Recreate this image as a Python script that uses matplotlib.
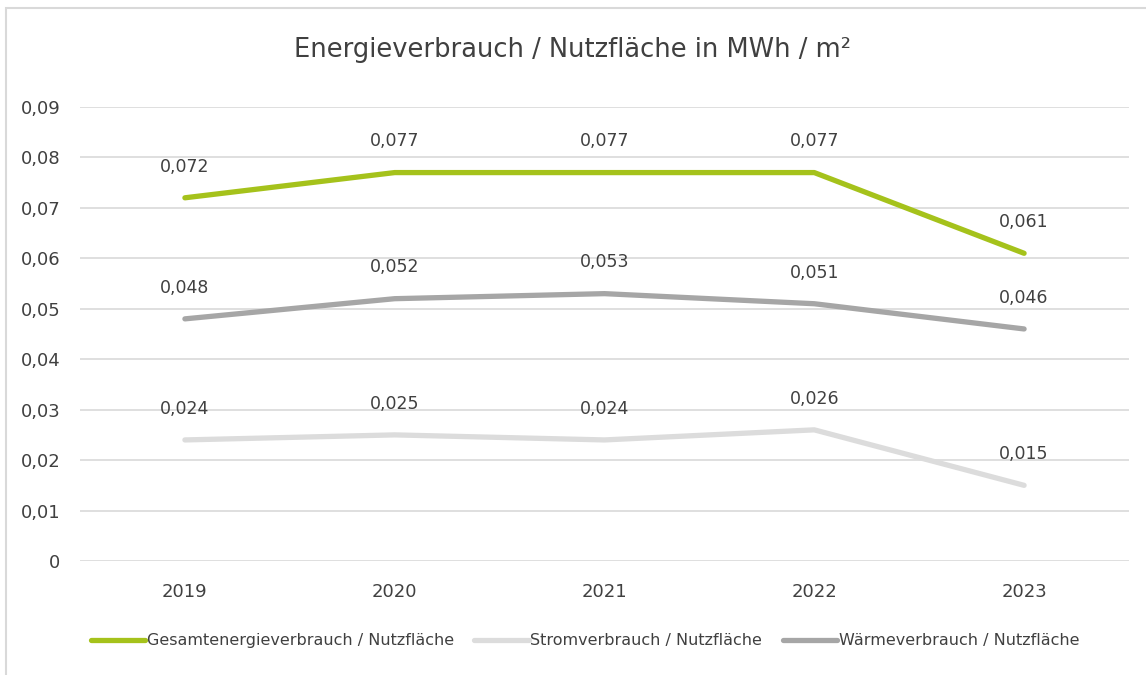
import matplotlib.pyplot as plt
from matplotlib.patches import Rectangle

plt.rcParams['font.family'] = ['Liberation Sans Narrow', 'DejaVu Sans']

years = ['2019', '2020', '2021', '2022', '2023']
gesamt = [0.072, 0.077, 0.077, 0.077, 0.061]
strom = [0.024, 0.025, 0.024, 0.026, 0.015]
waerme = [0.048, 0.052, 0.053, 0.051, 0.046]
yticks = [0, 0.01, 0.02, 0.03, 0.04, 0.05, 0.06, 0.07, 0.08, 0.09]

series = [
    ("Gesamtenergieverbrauch / Nutzfläche", gesamt, "#A5C21B"),
    ("Stromverbrauch / Nutzfläche", strom, "#DCDCDC"),
    ("Wärmeverbrauch / Nutzfläche", waerme, "#A6A6A6"),
]

txt = "#404040"

fig = plt.figure(figsize=(11.46, 6.75), dpi=100)
fig.patches.append(Rectangle((6 / 1146, -0.1), 1.2, 1 - 8 / 675 + 0.1,
                             transform=fig.transFigure, fill=False,
                             edgecolor="#D9D9D9", linewidth=1.5))
ax = fig.add_axes([80 / 1146, 1 - 561 / 675, 1049 / 1146, 454 / 675])

x = list(range(len(years)))
for name, vals, col in series:
    ax.plot(x, vals, color=col, linewidth=3.8, label=name, solid_capstyle='round')
    for xi, v in zip(x, vals):
        ax.annotate(f"{v:.3f}".replace('.', ','), (xi, v), xytext=(0, 16),
                    textcoords='offset points', ha='center', va='bottom',
                    fontsize=12.5, color=txt)

ax.set_xlim(-0.5, len(years) - 0.5)
ax.set_ylim(0, 0.09)
ax.set_xticks(x)
ax.set_xticklabels(years)
ax.set_yticks(yticks)
ax.set_yticklabels(["0" if t == 0 else f"{t:.2f}".replace('.', ',') for t in yticks])
ax.tick_params(length=0, labelsize=13, labelcolor=txt)
ax.tick_params(axis='y', pad=14)
ax.tick_params(axis='x', pad=16)
ax.grid(axis='y', color="#D9D9D9", linewidth=1.2)
ax.set_axisbelow(True)
for s in ax.spines.values():
    s.set_visible(False)

fig.text(0.5, 1 - 50 / 675, "Energieverbrauch / Nutzfläche in MWh / m²",
         ha='center', va='center', fontsize=18.5, color=txt)

fig.legend(loc='center', bbox_to_anchor=(585 / 1146, 1 - 641 / 675), ncol=3,
           frameon=False, fontsize=11.5, handlelength=3.4, columnspacing=1.3,
           handletextpad=0.1, labelcolor=txt)

fig.savefig("out.png", dpi=100)
